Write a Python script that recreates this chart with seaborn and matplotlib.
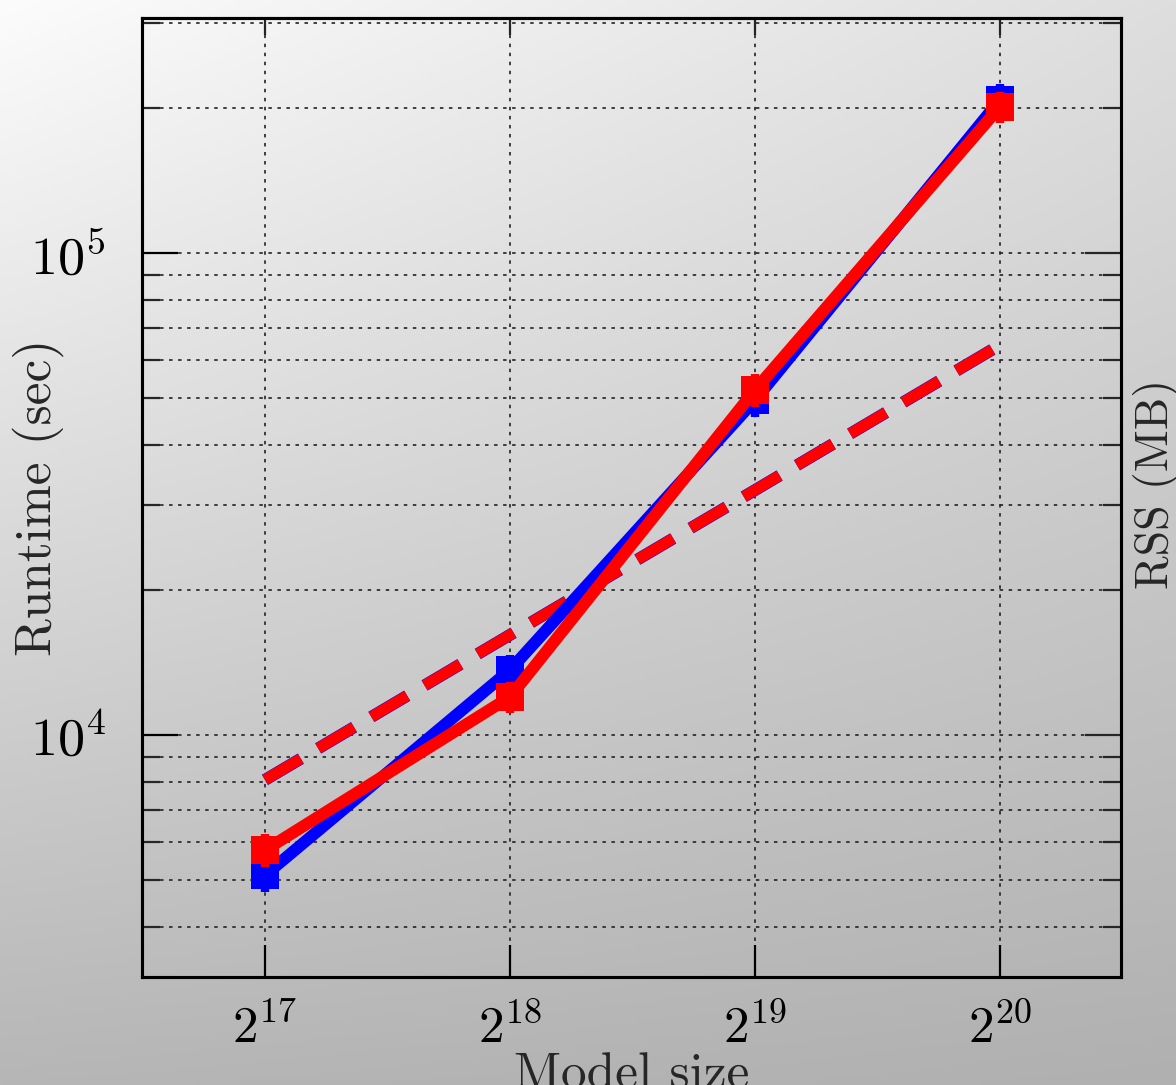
import numpy as np
import pandas as pd
import matplotlib
matplotlib.use("Agg")
import matplotlib.pyplot as plt
import seaborn as sns
from matplotlib.ticker import FixedLocator, FixedFormatter, NullFormatter, NullLocator, LogLocator

# ---------------- data ----------------
exponents = [17, 18, 19, 20]
model_size = [2 ** e for e in exponents]
runtime_blue = [5120, 13640, 49500, 207700]
runtime_red = [5770, 11990, 51970, 200900]
err_blue = [400, 1000, 3800, 16000]
err_red = [450, 900, 4000, 15000]
rss_blue = [8070, 16130, 32200, 64400]
rss_red = [8070, 16130, 32200, 64400]
xtick_labels = [r"$2^{17}$", r"$2^{18}$", r"$2^{19}$", r"$2^{20}$"]
ytick_values = [1e4, 1e5]
ytick_labels = [r"$10^4$", r"$10^5$"]
x_label = "Model size"
y_label = "Runtime (sec)"
y2_label = "RSS (MB)"

sns.set_theme(style="white")
plt.rcParams["font.family"] = ["cmr10", "DejaVu Serif"]
plt.rcParams["mathtext.fontset"] = "cm"
plt.rcParams["axes.unicode_minus"] = False
plt.rcParams["lines.scale_dashes"] = False

W, H = 1176, 1085
fig = plt.figure(figsize=(W / 100, H / 100), dpi=100)

# gradient background
bg = fig.add_axes([0, 0, 1, 1], zorder=-10)
xx = np.linspace(0, 1, 300)
yy = np.linspace(0, 1, 300)
X, Y = np.meshgrid(xx, yy)
TL, TR, BL, BR = 252, 222, 182, 176
G = (TL * (1 - X) * (1 - Y) + TR * X * (1 - Y) + BL * (1 - X) * Y + BR * X * Y) / 255.0
bg.imshow(np.dstack([G, G, G]), aspect="auto", extent=[0, 1, 0, 1], origin="upper")
bg.set_axis_off()

l, r_, b, t = 142 / W, 1121 / W, 1 - 977 / H, 1 - 18 / H
ax = fig.add_axes([l, b, r_ - l, t - b])
ax.patch.set_visible(False)

df_b = pd.DataFrame({"size": model_size, "runtime": runtime_blue})
df_r = pd.DataFrame({"size": model_size, "runtime": runtime_red})
df_rb = pd.DataFrame({"size": model_size, "rss": rss_blue})
df_rr = pd.DataFrame({"size": model_size, "rss": rss_red})

ax.set_xscale("log", base=2)
ax.set_yscale("log")
xlim = (2 ** 16.498, 2 ** 20.494)
ylim = (3148, 3.07e5)

lw = 8.6
ms = 20

ax2 = ax.twinx()
ax2.patch.set_visible(False)
ax2.set_yscale("log")

# dashed RSS lines (right axis)
sns.lineplot(data=df_rb, x="size", y="rss", ax=ax2, color="#0000ff", linewidth=lw,
             estimator=None, legend=False, zorder=2)
sns.lineplot(data=df_rr, x="size", y="rss", ax=ax2, color="#ff0000", linewidth=lw - 0.6,
             estimator=None, legend=False, zorder=3)
for line in ax2.get_lines():
    line.set_dashes((30, 14.5))

# solid runtime lines
sns.lineplot(data=df_b, x="size", y="runtime", ax=ax2, color="#0000ff", linewidth=lw,
             marker="s", markersize=ms, markeredgewidth=0, estimator=None, legend=False, zorder=4)
ax2.errorbar(model_size, runtime_blue, yerr=err_blue, fmt="none", ecolor="#0000ff",
             elinewidth=6, capsize=0, zorder=4)
sns.lineplot(data=df_r, x="size", y="runtime", ax=ax2, color="#ff0000", linewidth=lw,
             marker="s", markersize=ms, markeredgewidth=0, estimator=None, legend=False, zorder=5)
ax2.errorbar(model_size, runtime_red, yerr=err_red, fmt="none", ecolor="#ff0000",
             elinewidth=6, capsize=0, zorder=5)

for a in (ax, ax2):
    a.set_xlim(*xlim)
    a.set_ylim(*ylim)

# main axis ticks / grid
ax.xaxis.set_major_locator(FixedLocator(model_size))
ax.xaxis.set_major_formatter(FixedFormatter(xtick_labels))
ax.xaxis.set_minor_locator(NullLocator())
ax.yaxis.set_major_locator(FixedLocator(ytick_values))
ax.yaxis.set_major_formatter(FixedFormatter(ytick_labels))
ax.yaxis.set_minor_locator(LogLocator(base=10, subs=np.arange(2, 10)))
ax.yaxis.set_minor_formatter(NullFormatter())
ax.tick_params(axis="y", which="major", direction="in", length=26, width=1.6,
               labelsize=39, pad=26, left=True, right=False, colors="black")
ax.tick_params(axis="y", which="minor", direction="in", length=13, width=1.6,
               left=True, right=False)
ax.tick_params(axis="x", which="major", direction="in", length=23, width=1.6,
               labelsize=37, pad=20, bottom=True, top=False, colors="black")
ax.grid(True, which="major", axis="both", color="#222222", linestyle=(0, (2.5, 4)), linewidth=1.2)
ax.grid(True, which="minor", axis="y", color="#222222", linestyle=(0, (2.5, 4)), linewidth=1.2)
ax.set_axisbelow(True)

# right axis ticks
ax2.yaxis.set_major_locator(FixedLocator(ytick_values))
ax2.yaxis.set_major_formatter(NullFormatter())
ax2.yaxis.set_minor_locator(LogLocator(base=10, subs=np.arange(2, 10)))
ax2.yaxis.set_minor_formatter(NullFormatter())
ax2.tick_params(axis="y", which="major", direction="in", length=26, width=1.6, right=True, labelright=False)
ax2.tick_params(axis="y", which="minor", direction="in", length=13, width=1.6, right=True)
ax2.set_ylabel("")
ax2.set_xlabel("")
ax2.grid(False)

# top axis ticks
sec = ax.secondary_xaxis("top")
sec.xaxis.set_major_locator(FixedLocator(model_size))
sec.xaxis.set_minor_locator(NullLocator())
sec.tick_params(axis="x", which="major", direction="in", length=12, width=1.6, labeltop=False)

for a in (ax, ax2):
    for s in a.spines.values():
        s.set_color("black")
        s.set_linewidth(2.2)
sec.spines["top"].set_linewidth(2.2)

ax.set_xlabel(x_label, fontsize=37)
ax.set_ylabel(y_label, fontsize=37)
ax.xaxis.set_label_coords(0.5005, -0.079)
ax.yaxis.label.set_va("center")
ax.yaxis.set_label_coords(-0.106, 0.50)
fig.text((1156) / W, 1 - 484 / H, y2_label, rotation=90, fontsize=33,
         ha="center", va="center", family=["cmr10", "DejaVu Serif"])

fig.savefig("out.png", dpi=100)
